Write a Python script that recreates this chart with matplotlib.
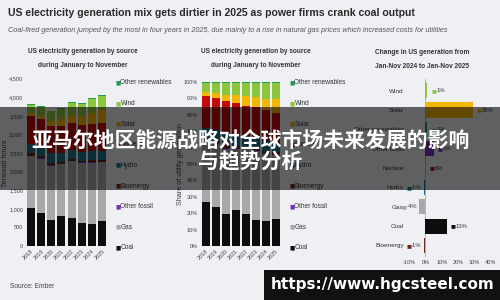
import numpy as np
import matplotlib.pyplot as plt
from matplotlib.patches import Rectangle

plt.rcParams['font.family'] = ['Liberation Sans', 'DejaVu Sans']

# Datos: generación de EE. UU. (enero-noviembre), TWh
years = ['2018', '2019', '2020', '2021', '2022', '2023', '2024', '2025']
coal = [1031, 884, 702, 814, 753, 614, 595, 672]
gas = [1376, 1447, 1456, 1381, 1521, 1610, 1640, 1574]
other_fossil = [23, 23, 22, 22, 23, 23, 24, 25]
bioenergy = [57, 53, 51, 48, 46, 46, 48, 47]
hydro = [267, 256, 262, 233, 240, 222, 235, 233]
nuclear = [737, 738, 728, 722, 715, 725, 745, 745]
solar = [92, 105, 135, 181, 236, 249, 275, 355]
wind = [218, 241, 265, 285, 313, 330, 390, 394]
other_renewables = [16, 16, 16, 16, 16, 16, 16, 16]

sources = ['Coal', 'Gas', 'Other fossil', 'Bioenergy', 'Hydro', 'Nuclear',
           'Solar', 'Wind', 'Other renewables']
series = [coal, gas, other_fossil, bioenergy, hydro, nuclear, solar, wind, other_renewables]
colors = ['#0d0d0d', '#a8a8a8', '#7b2fbe', '#6e2a12', '#1d7390', '#c40a0a',
          '#f2b705', '#8cc63e', '#1e9e50']
color_of = dict(zip(sources, colors))

# Cambio 2024 -> 2025 (%)
change_names = ['Wind', 'Solar', 'Other renewables', 'Other fossil', 'Nuclear',
                'Hydro', 'Gas', 'Coal', 'Bioenergy']
change_pct = [1, 29, 1, 5, 0, -1, -4, 13, -1]

bg = '#eef0f4'
W, H = 500, 300


def fx(px):
    return px / W


def fy(py):
    return 1 - py / H


def limpiar(ax):
    ax.set_facecolor(bg)
    for s in ax.spines.values():
        s.set_visible(False)
    ax.tick_params(length=0, labelsize=4, colors='#444444', pad=2)


fig = plt.figure(figsize=(5, 3), dpi=100)
fig.patch.set_facecolor(bg)

fig.text(fx(8), fy(13), 'US electricity generation mix gets dirtier in 2025 as power firms crank coal output',
         fontsize=7.6, fontweight='bold', color='#2b2b2b', va='center')
fig.text(fx(8), fy(31), 'Coal-fired generation jumped by the most in four years in 2025, due mainly to a rise '
         'in natural gas prices which increased costs for utilities',
         fontsize=5.2, style='italic', color='#555555', va='center')

x = np.arange(len(years))
valores = np.array(series, dtype=float)
totales = valores.sum(axis=0)

# Panel izquierdo: TWh
ax1 = fig.add_axes([fx(26), fy(246), 81 / W, (246 - 78.6) / H])
limpiar(ax1)
base = np.zeros(len(years))
for v, c in zip(valores, colors):
    ax1.bar(x, v, bottom=base, color=c, width=0.8)
    base += v
ax1.set_xlim(-0.5, 7.5)
ax1.set_ylim(0, 4500)
ax1.set_yticks(range(0, 4501, 500))
ax1.set_yticklabels([f'{t:,}' for t in range(0, 4501, 500)])
ax1.set_xticks(x)
ax1.set_xticklabels(years, rotation=45, ha='right', rotation_mode='anchor')

# Panel central: porcentaje
ax2 = fig.add_axes([fx(200.7), fy(246), 80 / W, 164 / H])
limpiar(ax2)
base = np.zeros(len(years))
for v, c in zip(valores, colors):
    ax2.bar(x, v / totales, bottom=base, color=c, width=0.8)
    base += v / totales
ax2.set_xlim(-0.5, 7.5)
ax2.set_ylim(0, 1)
ax2.set_yticks(np.arange(0, 1.01, 0.1))
ax2.set_yticklabels([f'{int(round(t * 100))}%' for t in np.arange(0, 1.01, 0.1)])
ax2.set_xticks(x)
ax2.set_xticklabels(years, rotation=45, ha='right', rotation_mode='anchor')

fig.text(fx(6), fy(163), 'Terawatt hours', rotation=90, fontsize=5.2, color='#444444',
         ha='center', va='center')
fig.text(fx(180), fy(164), 'Share of utility generation', rotation=90, fontsize=5.2,
         color='#444444', ha='center', va='center')

for cx in [83, 256]:
    fig.text(fx(cx), fy(51.5), 'US electricity generation by source', ha='center', va='center',
             fontsize=4.7, fontweight='bold', color='#333333')
    fig.text(fx(cx), fy(65.5), 'during January to November', ha='center', va='center',
             fontsize=4.7, fontweight='bold', color='#333333')

# Leyendas
for mx in [115, 289]:
    for i, name in enumerate(sources[::-1]):
        yy = 83 + i * 20.6
        fig.text(fx(mx), fy(yy), '\u25a0', family='DejaVu Sans', fontsize=4,
                 color=color_of[name], va='center', ha='left')
        fig.text(fx(mx + 5.5), fy(yy), name, fontsize=4.7, color='#333333', va='center', ha='left')

# Panel derecho: cambio
ax3 = fig.add_axes([fx(405.9), fy(257), (494 - 405.9) / W, (257 - 79.1) / H])
limpiar(ax3)
yy = np.arange(len(change_names))
vals = np.array(change_pct) / 100
ax3.barh(yy, vals, height=0.78, color=[color_of[n] for n in change_names])
ax3.axvline(0, color='#9a9a9a', lw=0.5, zorder=0)
ax3.set_xlim(-0.12, 0.42)
ax3.set_ylim(len(change_names) - 0.4, -0.6)
ax3.set_yticks(yy)
ax3.set_yticklabels(change_names, fontsize=4.6, color='#333333')
ax3.tick_params(axis='y', pad=1.5)
ax3.set_xticks(np.arange(-0.1, 0.41, 0.1))
ax3.set_xticklabels([f'{int(round(t * 100))}%' for t in np.arange(-0.1, 0.41, 0.1)])
for i, (n, v) in enumerate(zip(change_names, change_pct)):
    lab = f'{v}%'
    if v >= 0:
        ax3.annotate('\u25a0', (v / 100, i), xytext=(3, 0), textcoords='offset points',
                     family='DejaVu Sans', fontsize=3.8, color=color_of[n], va='center', ha='left')
        ax3.annotate(lab, (v / 100, i), xytext=(6.5, 0), textcoords='offset points',
                     fontsize=4.2, color='#333333', va='center', ha='left')
    else:
        ax3.annotate(lab, (v / 100, i), xytext=(-1.5, 0), textcoords='offset points',
                     fontsize=4.2, color='#333333', va='center', ha='right')
        ax3.annotate('\u25a0', (v / 100, i), xytext=(-1.5 - 2.2 * len(lab) - 1, 0),
                     textcoords='offset points', family='DejaVu Sans', fontsize=3.8,
                     color=color_of[n], va='center', ha='right')
fig.text(fx(422), fy(53), 'Change in US generation from', ha='center', va='center',
         fontsize=4.7, fontweight='bold', color='#333333')
fig.text(fx(422), fy(66), 'Jan-Nov 2024 to Jan-Nov 2025', ha='center', va='center',
         fontsize=4.7, fontweight='bold', color='#333333')

fig.text(fx(10), fy(287), 'Source: Ember', fontsize=4.8, color='#444444', va='center')

# Banda superpuesta con el título en chino
fig.add_artist(Rectangle((0, fy(190)), 1, (190 - 107) / H, transform=fig.transFigure,
                         facecolor='black', alpha=0.6, edgecolor='none', zorder=10))
cjk = ['Noto Sans CJK SC', 'DejaVu Sans']
fig.text(0.5, fy(140), '亚马尔地区能源战略对全球市场未来发展的影响', family=cjk, fontsize=15,
         fontweight='bold', color='white', ha='center', va='center', zorder=11)
fig.text(0.5, fy(162), '与趋势分析', family=cjk, fontsize=15, fontweight='bold',
         color='white', ha='center', va='center', zorder=11)

# Marca de agua
fig.add_artist(Rectangle((fx(264), 0), 1 - fx(264), 30 / H, transform=fig.transFigure,
                         facecolor='#111111', edgecolor='none', zorder=10))
fig.text(fx(383), fy(285), 'https://www.hgcsteel.com', family='DejaVu Sans', fontsize=11,
         fontweight='bold', color='white', ha='center', va='center', zorder=11)

fig.savefig('out.png', dpi=100, facecolor=bg)
